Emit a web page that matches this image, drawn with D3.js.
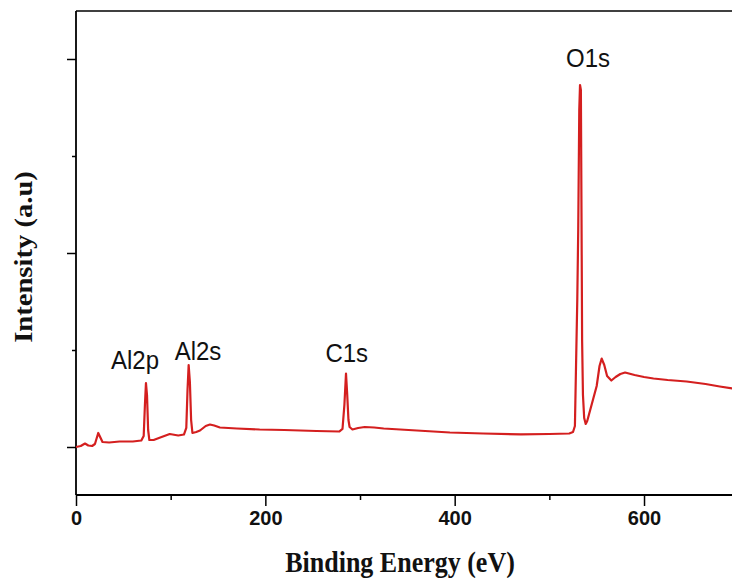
<!DOCTYPE html>
<html><head><meta charset="utf-8">
<script src="https://cdn.jsdelivr.net/npm/d3@7"></script>
<style>body{margin:0;background:#fff}svg{display:block}</style>
</head><body>
<svg id="chart" width="732" height="578"></svg>
<script>
// Binding energy (eV) and intensity (counts, a.u.)
const energy = [0,5,9.5,13,17,20,23.5,26,28,35,46,60,69,71.5,72.8,73.9,75,76.2,77.5,82,89,99,108,114,116.5,117.8,119,120.3,121.6,123,127,131,137,141.5,146,152,170,194,220,254,278,281.5,283.5,285.2,286.5,287.8,289,292,298,305,315,325,360,395,430,470,500,521,525,527,528.2,529.5,530.5,531.6,532.4,533.3,534.0,534.6,535.5,536.8,538.4,540,542,546,550,553,555.3,558,561,565.5,570,575,580,590,600,610,625,645,665,680,693,700];
const intensity = [0,258,900,390,258,770,3610,2320,1290,1160,1420,1420,1680,2830,10820,16490,13400,4380,1800,1800,2450,3350,2960,3220,4900,14690,21130,16750,6960,3610,3870,4250,5410,5800,5540,5030,4770,4510,4380,4120,3990,4640,10820,18940,13400,6960,5150,4510,4900,5150,5030,4770,4250,3740,3480,3270,3350,3480,3870,5410,21130,37880,55920,86850,93290,92000,58500,27570,13400,7470,5930,6700,8500,12110,15720,20870,22800,21130,18300,17140,18040,18810,19200,18550,18040,17650,17270,16880,16240,15590,15080,14950];
const xMajorTicks = [0,200,400,600];
const xMinorTicks = [100,300,500];
const yMajorTicks = [0,50000,100000];
const yMinorTicks = [25000,75000];
const peakLabels = ["Al2p","Al2s","C1s","O1s"];
const peakEnergy = [62.3,128.9,286,540.8];
const peakLabelValue = [20230,22420,21980,97860];
const xTitle = "Binding Energy (eV)";
const yTitle = "Intensity (a.u)";

const svg = d3.select("#chart");
const mLeft = 76, mTop = 11, mBottom = 495;
const x = d3.scaleLinear().domain([0,700]).range([mLeft, mLeft + 700*0.9467]);
const y = d3.scaleLinear().domain([-12371, 112370]).range([mBottom, mTop]);

const axisColor = "#000";
const gx = svg.append("g").attr("transform", `translate(0,${mBottom})`);
gx.call(d3.axisBottom(x).tickValues(xMajorTicks).tickSize(11).tickPadding(5).tickFormat(d3.format("d")));
gx.append("g").call(d3.axisBottom(x).tickValues(xMinorTicks).tickSize(5).tickFormat(""));
gx.selectAll(".domain").remove();
gx.selectAll("line").attr("stroke", axisColor).attr("stroke-width", 1.5);
gx.selectAll("text").attr("font-family", "Liberation Sans, Arial, sans-serif").attr("font-weight", "bold").attr("font-size", 20).attr("fill", "#111").attr("dy", "0.72em");

const gy = svg.append("g").attr("transform", `translate(${mLeft},0)`);
gy.call(d3.axisLeft(y).tickValues(yMajorTicks).tickSize(9).tickFormat(""));
gy.append("g").call(d3.axisLeft(y).tickValues(yMinorTicks).tickSize(4).tickFormat(""));
gy.selectAll(".domain").remove();
gy.selectAll("line").attr("stroke", axisColor).attr("stroke-width", 1.5);

svg.append("line").attr("x1", mLeft).attr("x2", 732).attr("y1", mBottom).attr("y2", mBottom).attr("stroke", axisColor).attr("stroke-width", 1.8);
svg.append("line").attr("x1", mLeft).attr("x2", 732).attr("y1", mTop).attr("y2", mTop).attr("stroke", axisColor).attr("stroke-width", 1.5);
svg.append("line").attr("x1", mLeft).attr("x2", mLeft).attr("y1", mTop).attr("y2", mBottom).attr("stroke", axisColor).attr("stroke-width", 1.8);

const line = d3.line().x((d,i)=>x(energy[i])).y((d,i)=>y(intensity[i]));
svg.append("path").datum(energy).attr("d", line).attr("fill","none").attr("stroke","#d41f1f").attr("stroke-width",2.2).attr("stroke-linejoin","round");

svg.selectAll(".peak").data(peakLabels).join("text")
  .attr("class","peak")
  .attr("transform",(d,i)=>`translate(${x(peakEnergy[i])},${y(peakLabelValue[i])}) scale(1,1.08)`)
  .attr("text-anchor","middle")
  .attr("font-family","Liberation Sans, Arial, sans-serif").attr("font-size",24).attr("fill","#111")
  .text(d=>d);

svg.append("text").attr("transform","translate(400,572) scale(1,1.1)").attr("text-anchor","middle")
  .attr("font-family","Liberation Serif, Times New Roman, serif").attr("font-weight","bold").attr("font-size",26).attr("fill","#111")
  .text(xTitle);
svg.append("text").attr("transform","translate(32,257) rotate(-90) scale(1.1,1)").attr("text-anchor","middle")
  .attr("font-family","Liberation Serif, Times New Roman, serif").attr("font-weight","bold").attr("font-size",26).attr("fill","#111")
  .text(yTitle);
</script>
</body></html>
